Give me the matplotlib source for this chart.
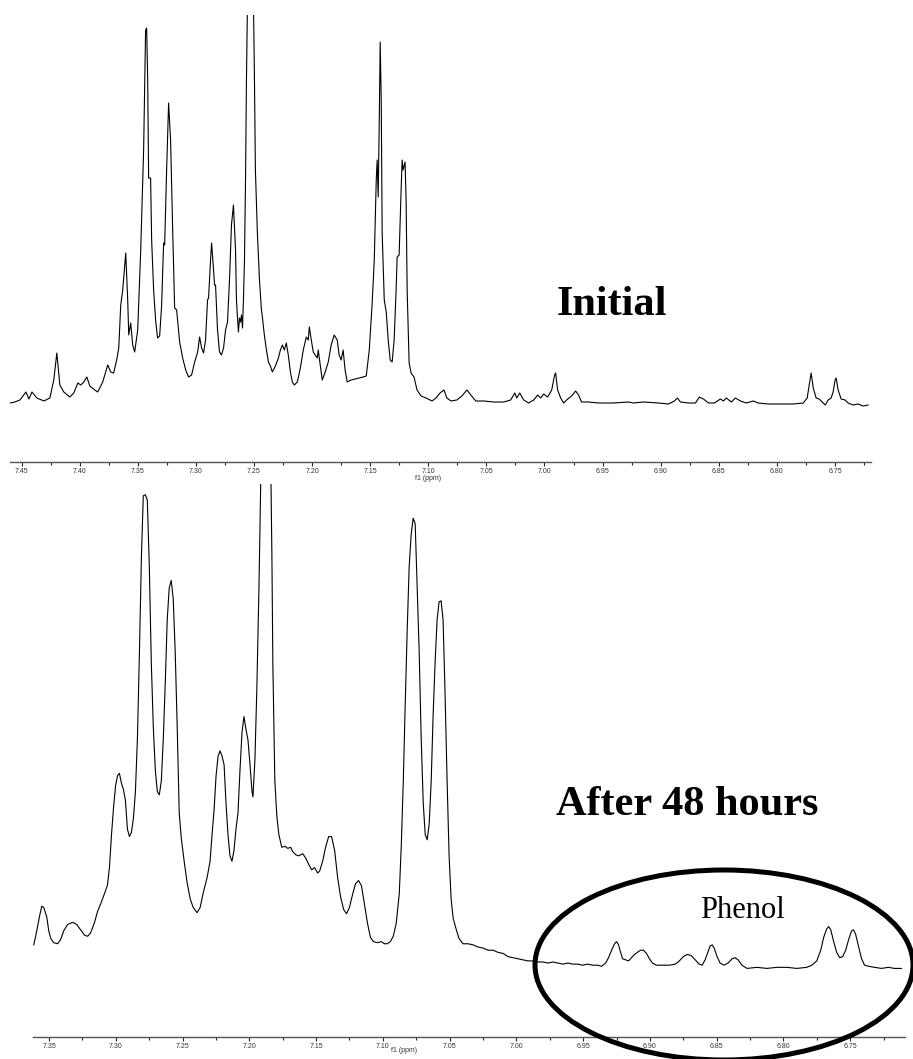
import numpy as np
import matplotlib
matplotlib.use("Agg")
import matplotlib.pyplot as plt
from matplotlib.ticker import MultipleLocator, FormatStrFormatter
from matplotlib.patches import Ellipse

# ---------- spectrum 1: initial (ppm, intensity) ----------
ppm_initial = [7.460, 7.4558, 7.4515, 7.4463, 7.4437, 7.4411, 7.4369, 7.4308, 7.4257, 7.4223,
               7.4197, 7.4171, 7.4137, 7.4085, 7.4051, 7.4016, 7.3991, 7.3965, 7.3939, 7.3913,
               7.3870, 7.3845, 7.3802, 7.3759, 7.3733, 7.3708, 7.3682, 7.3664, 7.3647, 7.3630,
               7.3604, 7.3587, 7.3578, 7.3561, 7.3544, 7.3527, 7.3501, 7.3475, 7.3450, 7.3433,
               7.3424, 7.3415, 7.3407, 7.3390, 7.3381, 7.3364, 7.3347, 7.3330, 7.3312, 7.3295,
               7.3278, 7.3269, 7.3252, 7.3235, 7.3218, 7.3200, 7.3183, 7.3166, 7.3140, 7.3114,
               7.3088, 7.3063, 7.3037, 7.3011, 7.2985, 7.2968, 7.2951, 7.2934, 7.2917, 7.2900,
               7.2891, 7.2874, 7.2865, 7.2848, 7.2840, 7.2831, 7.2814, 7.2797, 7.2780, 7.2762,
               7.2745, 7.2728, 7.2711, 7.2694, 7.2677, 7.2659, 7.2651, 7.2642, 7.2634, 7.2625,
               7.2616, 7.2608, 7.2599, 7.2591, 7.2582, 7.2573, 7.2565, 7.2556, 7.2505, 7.2496,
               7.2488, 7.2471, 7.2453, 7.2436, 7.2428, 7.2411, 7.2393, 7.2376, 7.2359, 7.2342,
               7.2316, 7.2290, 7.2273, 7.2256, 7.2239, 7.2222, 7.2205, 7.2187, 7.2170, 7.2153,
               7.2127, 7.2101, 7.2076, 7.2050, 7.2033, 7.2024, 7.2007, 7.1990, 7.1973, 7.1956,
               7.1947, 7.1930, 7.1913, 7.1887, 7.1861, 7.1836, 7.1810, 7.1784, 7.1767, 7.1750,
               7.1733, 7.1716, 7.1698, 7.1664, 7.1630, 7.1595, 7.1561, 7.1534, 7.1508, 7.1483,
               7.1465, 7.1448, 7.1440, 7.1431, 7.1422, 7.1414, 7.1405, 7.1397, 7.1379, 7.1362,
               7.1345, 7.1328, 7.1311, 7.1294, 7.1277, 7.1268, 7.1251, 7.1234, 7.1225, 7.1217,
               7.1200, 7.1191, 7.1182, 7.1165, 7.1148, 7.1123, 7.1097, 7.1062, 7.1019, 7.0968,
               7.0934, 7.0899, 7.0865, 7.0840, 7.0805, 7.0754, 7.0711, 7.0668, 7.0634, 7.0591,
               7.0522, 7.0436, 7.0351, 7.0291, 7.0256, 7.0239, 7.0213, 7.0179, 7.0136, 7.0093,
               7.0059, 7.0033, 7.0007, 6.9973, 6.9938, 6.9913, 6.9904, 6.9887, 6.9861, 6.9835,
               6.9810, 6.9767, 6.9732, 6.9707, 6.9681, 6.9621, 6.9535, 6.9406, 6.9277, 6.9234,
               6.9148, 6.9019, 6.8933, 6.8882, 6.8856, 6.8830, 6.8761, 6.8701, 6.8667, 6.8632,
               6.8589, 6.8538, 6.8486, 6.8460, 6.8435, 6.8392, 6.8357, 6.8314, 6.8263, 6.8203,
               6.8160, 6.8074, 6.7988, 6.7859, 6.7773, 6.7739, 6.7722, 6.7705, 6.7687, 6.7662,
               6.7636, 6.7610, 6.7584, 6.7559, 6.7533, 6.7516, 6.7499, 6.7490, 6.7473, 6.7447,
               6.7413, 6.7387, 6.7344, 6.7301, 6.7258, 6.7215]
int_initial = [2, 3, 5, 13, 6, 13, 7, 4, 7, 25,
               52, 20, 13, 8, 12, 22, 20, 23, 28, 19,
               15, 13, 23, 40, 33, 32, 45, 57, 100, 115,
               152, 105, 70, 82, 60, 53, 75, 155, 255, 375,
               377, 325, 227, 227, 165, 115, 85, 67, 69, 100,
               162, 160, 235, 302, 265, 175, 97, 95, 63, 47,
               35, 28, 30, 43, 53, 68, 57, 52, 65, 105,
               107, 145, 162, 135, 120, 120, 75, 53, 50, 57,
               75, 83, 125, 180, 200, 155, 105, 87, 73, 87,
               83, 90, 77, 105, 145, 225, 325, 405, 405, 325,
               235, 172, 125, 95, 88, 70, 55, 43, 39, 33,
               39, 47, 55, 60, 55, 62, 50, 33, 23, 20,
               23, 37, 55, 68, 65, 78, 65, 53, 50, 47,
               55, 40, 25, 33, 43, 60, 70, 65, 50, 45,
               55, 35, 23, 25, 26, 27, 28, 29, 55, 102,
               145, 225, 245, 208, 285, 363, 305, 172, 105, 93,
               65, 45, 43, 65, 115, 148, 150, 215, 245, 235,
               243, 205, 115, 42, 32, 28, 15, 9, 7, 4,
               7, 12, 15, 7, 4, 5, 9, 15, 10, 4,
               4, 3, 3, 5, 12, 7, 12, 5, 2, 5,
               10, 7, 11, 8, 15, 30, 32, 15, 7, 2,
               5, 9, 14, 10, 3, 3, 2, 2, 3, 2,
               3, 2, 1, 4, 7, 3, 2, 2, 8, 6,
               2, 2, 6, 4, 7, 3, 7, 4, 2, 4,
               2, 1, 1, 1, 2, 7, 20, 32, 17, 7,
               6, 3, 0, 5, 7, 13, 25, 27, 15, 6,
               5, 2, 0, 1, -1, 0]

# ---------- spectrum 2: after 48 hours ----------
ppm_48h = [7.3614, 7.3592, 7.3569, 7.3554, 7.3540, 7.3525, 7.3517, 7.3502, 7.3487, 7.3465,
           7.3435, 7.3413, 7.3390, 7.3361, 7.3323, 7.3293, 7.3264, 7.3234, 7.3211, 7.3189,
           7.3159, 7.3137, 7.3114, 7.3084, 7.3062, 7.3047, 7.3032, 7.3017, 7.3002, 7.2987,
           7.2973, 7.2958, 7.2943, 7.2928, 7.2913, 7.2898, 7.2883, 7.2868, 7.2853, 7.2838,
           7.2823, 7.2808, 7.2794, 7.2779, 7.2764, 7.2749, 7.2734, 7.2719, 7.2704, 7.2689,
           7.2674, 7.2659, 7.2644, 7.2630, 7.2615, 7.2600, 7.2585, 7.2570, 7.2555, 7.2540,
           7.2525, 7.2510, 7.2488, 7.2466, 7.2443, 7.2421, 7.2391, 7.2368, 7.2346, 7.2316,
           7.2294, 7.2279, 7.2264, 7.2249, 7.2234, 7.2219, 7.2204, 7.2189, 7.2175, 7.2160,
           7.2145, 7.2130, 7.2115, 7.2100, 7.2085, 7.2070, 7.2055, 7.2040, 7.2025, 7.2010,
           7.1995, 7.1980, 7.1973, 7.1958, 7.1943, 7.1928, 7.1913, 7.1839, 7.1831, 7.1824,
           7.1809, 7.1794, 7.1779, 7.1757, 7.1734, 7.1712, 7.1690, 7.1675, 7.1652, 7.1630,
           7.1600, 7.1578, 7.1555, 7.1533, 7.1511, 7.1488, 7.1473, 7.1451, 7.1429, 7.1406,
           7.1384, 7.1361, 7.1339, 7.1317, 7.1294, 7.1272, 7.1250, 7.1227, 7.1205, 7.1182,
           7.1160, 7.1138, 7.1115, 7.1093, 7.1071, 7.1041, 7.1011, 7.0989, 7.0967, 7.0944,
           7.0922, 7.0900, 7.0877, 7.0862, 7.0847, 7.0833, 7.0818, 7.0803, 7.0788, 7.0773,
           7.0758, 7.0743, 7.0728, 7.0713, 7.0698, 7.0683, 7.0668, 7.0653, 7.0638, 7.0624,
           7.0609, 7.0594, 7.0579, 7.0564, 7.0549, 7.0534, 7.0519, 7.0504, 7.0489, 7.0474,
           7.0452, 7.0430, 7.0400, 7.0363, 7.0324, 7.0289, 7.0250, 7.0213, 7.0175, 7.0138,
           7.0100, 7.0063, 7.0026, 6.9989, 6.9951, 6.9914, 6.9877, 6.9839, 6.9802, 6.9765,
           6.9727, 6.9690, 6.9653, 6.9615, 6.9578, 6.9541, 6.9504, 6.9466, 6.9429, 6.9392,
           6.9362, 6.9332, 6.9310, 6.9287, 6.9265, 6.9250, 6.9235, 6.9220, 6.9205, 6.9183,
           6.9160, 6.9138, 6.9116, 6.9093, 6.9071, 6.9049, 6.9026, 6.9004, 6.8981, 6.8952,
           6.8907, 6.8855, 6.8810, 6.8780, 6.8750, 6.8721, 6.8691, 6.8661, 6.8631, 6.8609,
           6.8587, 6.8564, 6.8549, 6.8534, 6.8519, 6.8497, 6.8475, 6.8445, 6.8415, 6.8385,
           6.8363, 6.8340, 6.8311, 6.8273, 6.8199, 6.8124, 6.8049, 6.7975, 6.7900, 6.7826,
           6.7788, 6.7751, 6.7721, 6.7699, 6.7676, 6.7661, 6.7646, 6.7624, 6.7602, 6.7579,
           6.7557, 6.7534, 6.7512, 6.7490, 6.7475, 6.7460, 6.7437, 6.7415, 6.7393, 6.7363,
           6.7318, 6.7266, 6.7214, 6.7169, 6.7117]
int_48h = [22, 35, 50, 58, 57, 51, 48, 35, 28, 24,
           23, 27, 35, 41, 43, 41, 36, 31, 30, 33,
           43, 53, 60, 70, 78, 95, 125, 150, 170, 180,
           182, 173, 167, 157, 130, 123, 127, 140, 165, 215,
           295, 385, 441, 442, 437, 375, 285, 225, 185, 165,
           162, 175, 215, 265, 325, 355, 362, 345, 295, 225,
           145, 122, 100, 80, 65, 57, 52, 57, 70, 85,
           100, 125, 148, 180, 198, 203, 198, 190, 155, 125,
           105, 100, 110, 130, 145, 185, 220, 235, 223, 213,
           190, 165, 160, 195, 265, 355, 465, 465, 385, 285,
           175, 142, 125, 113, 114, 112, 113, 109, 106, 105,
           107, 103, 97, 92, 94, 89, 91, 100, 113, 123,
           123, 110, 85, 67, 55, 51, 57, 69, 79, 82,
           77, 60, 42, 29, 25, 24, 25, 23, 23, 25,
           30, 42, 70, 115, 175, 245, 315, 375, 405, 420,
           415, 355, 295, 215, 155, 125, 120, 135, 175, 235,
           285, 325, 342, 343, 325, 255, 175, 105, 65, 47,
           37, 28, 23, 23, 22, 20, 19, 17, 17, 15,
           14, 11, 10, 9, 8, 7, 7, 6, 6, 5,
           6, 5, 4, 5, 4, 4, 3, 4, 3, 3,
           2, 5, 10, 17, 23, 25, 22, 15, 9, 8,
           7, 10, 13, 15, 17, 17, 14, 9, 5, 3,
           3, 3, 4, 7, 11, 13, 12, 8, 4, 3,
           8, 16, 21, 22, 19, 11, 5, 3, 5, 9,
           10, 8, 3, 0, 1, 0, 1, 1, 0, 1,
           3, 7, 17, 29, 37, 39, 36, 25, 15, 10,
           11, 17, 27, 35, 36, 32, 20, 9, 3, 2,
           1, 0, 1, 0, 0]

W, H = 913, 1059
fig = plt.figure(figsize=(W / 100, H / 100), dpi=100)


def px(x0, y_top, x1, y_bot):
    # axes rectangle from pixel coordinates
    return [x0 / W, 1 - y_bot / H, (x1 - x0) / W, (y_bot - y_top) / H]


def style_axis(ax):
    for s in ['left', 'right', 'top']:
        ax.spines[s].set_visible(False)
    ax.spines['bottom'].set_color('#555555')
    ax.spines['bottom'].set_linewidth(1.0)
    ax.set_yticks([])
    ax.xaxis.set_major_locator(MultipleLocator(0.05))
    ax.xaxis.set_minor_locator(MultipleLocator(0.025))
    ax.xaxis.set_major_formatter(FormatStrFormatter('%.2f'))
    ax.tick_params(axis='x', which='major', length=3, width=0.8, color='#222222',
                   labelsize=5, labelcolor='#333333', pad=1.5)
    ax.tick_params(axis='x', which='minor', length=1.8, width=0.8, color='#222222')
    for lab in ax.get_xticklabels():
        lab.set_family('Liberation Sans')
    ax.patch.set_visible(False)


# top panel
ax1 = fig.add_axes(px(10, 15, 871, 462))
ax1.plot(ppm_initial, int_initial, color='black', lw=0.8)
ax1.set_xlim(7.46, 6.719)
ax1.set_ylim(-57, 390)
style_axis(ax1)
ax1.text(7.10, -17 / 447, 'f1 (ppm)', transform=ax1.get_xaxis_transform(),
         ha='center', va='center', fontsize=5, color='#333333', family='Liberation Sans')

# bottom panel
ax2 = fig.add_axes(px(33, 484, 905, 1037))
ax2.plot(ppm_48h, int_48h, color='black', lw=0.8)
ax2.set_xlim(7.362, 6.709)
ax2.set_ylim(-64, 452)
style_axis(ax2)
ax2.text(7.0936, -14 / 553, 'f1 (ppm)', transform=ax2.get_xaxis_transform(),
         ha='left', va='center', fontsize=5, color='#333333', family='Liberation Sans')

# labels
fig.text(557 / W, 1 - 315 / H, 'Initial', fontsize=30.5, fontweight='bold',
         family='Liberation Serif', ha='left', va='baseline')
fig.text(556 / W, 1 - 815 / H, 'After 48 hours', fontsize=30.5, fontweight='bold',
         family='Liberation Serif', ha='left', va='baseline')
fig.text(700 / W, 1 - 918 / H, 'Phenol', fontsize=22, family='Liberation Serif',
         ha='left', va='baseline')

# ellipse round the phenol peaks
fig.add_artist(Ellipse((724 / W, 1 - 965 / H), 378 / W, 190 / H, transform=fig.transFigure,
                       fill=False, edgecolor='black', lw=3.6, clip_on=False))

fig.savefig('out.png', dpi=100)
